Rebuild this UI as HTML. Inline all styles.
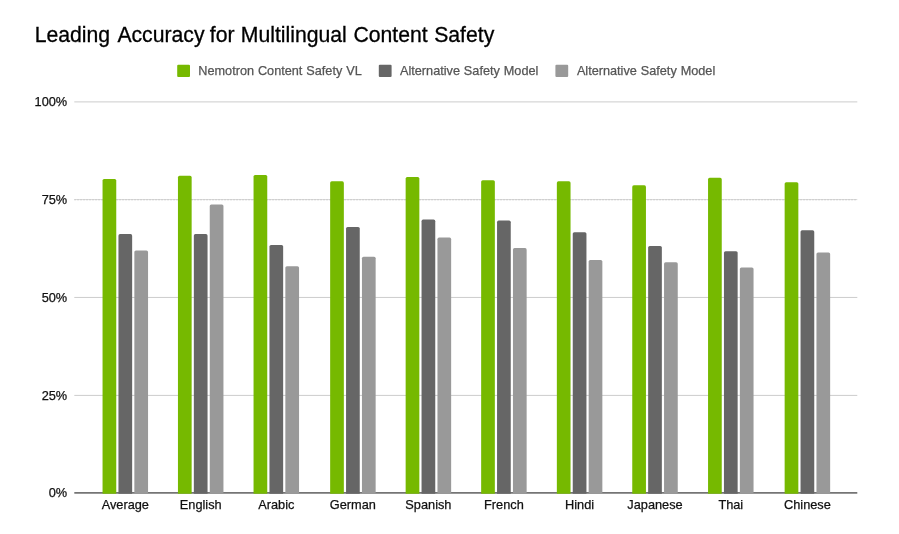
<!DOCTYPE html>
<html lang="en">
<head>
<meta charset="utf-8">
<title>Leading Accuracy for Multilingual Content Safety</title>
<style>
html,body{margin:0;padding:0;background:#fff;}
body{width:899px;height:534px;overflow:hidden;}
svg{display:block;font-family:"Liberation Sans",Arial,Helvetica,sans-serif;}
.t{font-size:21.2px;fill:#000;stroke:#000;stroke-width:0.3px;}
.lg{font-size:12.7px;fill:#555;word-spacing:0.4px;stroke:#555;stroke-width:0.25px;}
.ax{font-size:12.75px;fill:#111;stroke:#111;stroke-width:0.25px;}
</style>
</head>
<body>
<svg width="899" height="534" viewBox="0 0 899 534">
<rect width="899" height="534" fill="#ffffff"/>
<text class="t" y="42"><tspan x="34.7">Leading </tspan><tspan x="117.4">Accuracy </tspan><tspan x="209.75">for </tspan><tspan x="240.8">Multilingual </tspan><tspan x="353.5">Content </tspan><tspan x="434.2">Safety</tspan></text>
<rect x="177.2" y="64.7" width="12.8" height="12.4" rx="1.1" fill="#76b900"/>
<text class="lg" x="198.3" y="75.0">Nemotron Content Safety VL</text>
<rect x="378.8" y="64.7" width="12.8" height="12.4" rx="1.1" fill="#666666"/>
<text class="lg" x="400.0" y="75.0">Alternative Safety Model</text>
<rect x="555.4" y="64.7" width="12.8" height="12.4" rx="1.1" fill="#999999"/>
<text class="lg" x="576.9" y="75.0">Alternative Safety Model</text>
<line x1="74.3" x2="857.3" y1="101.90" y2="101.90" stroke="#cccccc" stroke-width="1"/>
<text class="ax" x="67.2" y="106.00" text-anchor="end">100%</text>
<line x1="74.3" x2="857.3" y1="199.60" y2="199.60" stroke="#d9d9d9" stroke-width="1"/>
<line x1="74.3" x2="857.3" y1="199.75" y2="199.75" stroke="#c6c6c6" stroke-width="1" stroke-dasharray="1.5 1.5"/>
<text class="ax" x="67.2" y="203.70" text-anchor="end">75%</text>
<line x1="74.3" x2="857.3" y1="297.45" y2="297.45" stroke="#cccccc" stroke-width="1"/>
<text class="ax" x="67.2" y="301.55" text-anchor="end">50%</text>
<line x1="74.3" x2="857.3" y1="395.40" y2="395.40" stroke="#cccccc" stroke-width="1"/>
<text class="ax" x="67.2" y="399.50" text-anchor="end">25%</text>
<text class="ax" x="67.2" y="496.90" text-anchor="end">0%</text>
<line x1="74.3" x2="857.3" y1="492.90" y2="492.90" stroke="#757575" stroke-width="1.7"/>
<path d="M102.55 493.75V180.60Q102.55 179.00 104.15 179.00H114.65Q116.25 179.00 116.25 180.60V493.75Z" fill="#76b900"/>
<path d="M118.45 493.75V235.70Q118.45 234.10 120.05 234.10H130.55Q132.15 234.10 132.15 235.70V493.75Z" fill="#666666"/>
<path d="M134.35 493.75V252.00Q134.35 250.40 135.95 250.40H146.45Q148.05 250.40 148.05 252.00V493.75Z" fill="#999999"/>
<text class="ax" x="125.30" y="509.4" text-anchor="middle">Average</text>
<path d="M177.95 493.75V177.40Q177.95 175.80 179.55 175.80H190.05Q191.65 175.80 191.65 177.40V493.75Z" fill="#76b900"/>
<path d="M193.85 493.75V235.70Q193.85 234.10 195.45 234.10H205.95Q207.55 234.10 207.55 235.70V493.75Z" fill="#666666"/>
<path d="M209.75 493.75V206.10Q209.75 204.50 211.35 204.50H221.85Q223.45 204.50 223.45 206.10V493.75Z" fill="#999999"/>
<text class="ax" x="200.70" y="509.4" text-anchor="middle">English</text>
<path d="M253.55 493.75V176.60Q253.55 175.00 255.15 175.00H265.65Q267.25 175.00 267.25 176.60V493.75Z" fill="#76b900"/>
<path d="M269.45 493.75V246.60Q269.45 245.00 271.05 245.00H281.55Q283.15 245.00 283.15 246.60V493.75Z" fill="#666666"/>
<path d="M285.35 493.75V267.80Q285.35 266.20 286.95 266.20H297.45Q299.05 266.20 299.05 267.80V493.75Z" fill="#999999"/>
<text class="ax" x="276.30" y="509.4" text-anchor="middle">Arabic</text>
<path d="M330.15 493.75V182.90Q330.15 181.30 331.75 181.30H342.25Q343.85 181.30 343.85 182.90V493.75Z" fill="#76b900"/>
<path d="M346.05 493.75V228.60Q346.05 227.00 347.65 227.00H358.15Q359.75 227.00 359.75 228.60V493.75Z" fill="#666666"/>
<path d="M361.95 493.75V258.30Q361.95 256.70 363.55 256.70H374.05Q375.65 256.70 375.65 258.30V493.75Z" fill="#999999"/>
<text class="ax" x="352.90" y="509.4" text-anchor="middle">German</text>
<path d="M405.65 493.75V178.60Q405.65 177.00 407.25 177.00H417.75Q419.35 177.00 419.35 178.60V493.75Z" fill="#76b900"/>
<path d="M421.55 493.75V221.20Q421.55 219.60 423.15 219.60H433.65Q435.25 219.60 435.25 221.20V493.75Z" fill="#666666"/>
<path d="M437.45 493.75V239.20Q437.45 237.60 439.05 237.60H449.55Q451.15 237.60 451.15 239.20V493.75Z" fill="#999999"/>
<text class="ax" x="428.40" y="509.4" text-anchor="middle">Spanish</text>
<path d="M481.15 493.75V181.80Q481.15 180.20 482.75 180.20H493.25Q494.85 180.20 494.85 181.80V493.75Z" fill="#76b900"/>
<path d="M497.05 493.75V222.20Q497.05 220.60 498.65 220.60H509.15Q510.75 220.60 510.75 222.20V493.75Z" fill="#666666"/>
<path d="M512.95 493.75V249.70Q512.95 248.10 514.55 248.10H525.05Q526.65 248.10 526.65 249.70V493.75Z" fill="#999999"/>
<text class="ax" x="503.90" y="509.4" text-anchor="middle">French</text>
<path d="M556.85 493.75V182.95Q556.85 181.35 558.45 181.35H568.95Q570.55 181.35 570.55 182.95V493.75Z" fill="#76b900"/>
<path d="M572.75 493.75V233.80Q572.75 232.20 574.35 232.20H584.85Q586.45 232.20 586.45 233.80V493.75Z" fill="#666666"/>
<path d="M588.65 493.75V261.60Q588.65 260.00 590.25 260.00H600.75Q602.35 260.00 602.35 261.60V493.75Z" fill="#999999"/>
<text class="ax" x="579.60" y="509.4" text-anchor="middle">Hindi</text>
<path d="M632.25 493.75V186.95Q632.25 185.35 633.85 185.35H644.35Q645.95 185.35 645.95 186.95V493.75Z" fill="#76b900"/>
<path d="M648.15 493.75V247.60Q648.15 246.00 649.75 246.00H660.25Q661.85 246.00 661.85 247.60V493.75Z" fill="#666666"/>
<path d="M664.05 493.75V263.80Q664.05 262.20 665.65 262.20H676.15Q677.75 262.20 677.75 263.80V493.75Z" fill="#999999"/>
<text class="ax" x="655.00" y="509.4" text-anchor="middle">Japanese</text>
<path d="M708.05 493.75V179.40Q708.05 177.80 709.65 177.80H720.15Q721.75 177.80 721.75 179.40V493.75Z" fill="#76b900"/>
<path d="M723.95 493.75V252.80Q723.95 251.20 725.55 251.20H736.05Q737.65 251.20 737.65 252.80V493.75Z" fill="#666666"/>
<path d="M739.85 493.75V269.00Q739.85 267.40 741.45 267.40H751.95Q753.55 267.40 753.55 269.00V493.75Z" fill="#999999"/>
<text class="ax" x="730.80" y="509.4" text-anchor="middle">Thai</text>
<path d="M784.65 493.75V183.80Q784.65 182.20 786.25 182.20H796.75Q798.35 182.20 798.35 183.80V493.75Z" fill="#76b900"/>
<path d="M800.55 493.75V231.80Q800.55 230.20 802.15 230.20H812.65Q814.25 230.20 814.25 231.80V493.75Z" fill="#666666"/>
<path d="M816.45 493.75V254.10Q816.45 252.50 818.05 252.50H828.55Q830.15 252.50 830.15 254.10V493.75Z" fill="#999999"/>
<text class="ax" x="807.40" y="509.4" text-anchor="middle">Chinese</text>
</svg>
</body>
</html>
